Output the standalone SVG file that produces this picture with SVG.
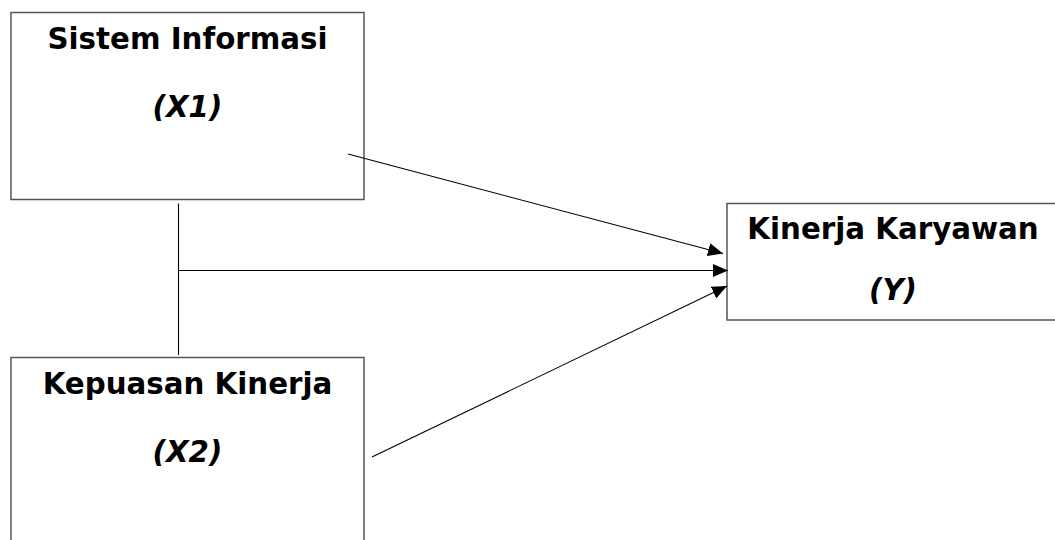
<svg xmlns="http://www.w3.org/2000/svg" width="1055" height="540" viewBox="0 0 1055 540">
  <style>
    .box { fill: #ffffff; stroke: #555555; stroke-width: 1.5; }
    .lbl { font-family: "DejaVu Sans", "Liberation Sans", sans-serif; font-weight: bold; font-size: 29.3px; fill: #000000; text-anchor: middle; }
    .it { font-style: italic; }
    .edge { stroke: #000000; stroke-width: 1.1; fill: none; }
  </style>
  <defs>
    <marker id="arrow" viewBox="0 0 15 13" refX="15" refY="6.5" markerWidth="15" markerHeight="13" markerUnits="userSpaceOnUse" orient="auto">
      <path d="M0,0 L15,6.5 L0,13 Z" fill="#000000"/>
    </marker>
  </defs>
  <rect width="1055" height="540" fill="#ffffff"/>

  <g id="node-x1">
    <rect class="box" x="11" y="12.5" width="353" height="187"/>
    <text class="lbl" x="187.5" y="49">Sistem Informasi</text>
    <text class="lbl it" x="187.5" y="116.5">(X1)</text>
  </g>

  <g id="node-x2">
    <rect class="box" x="11" y="357.5" width="353" height="200"/>
    <text class="lbl" x="187.5" y="393.5">Kepuasan Kinerja</text>
    <text class="lbl it" x="187.5" y="461.5">(X2)</text>
  </g>

  <g id="node-y">
    <rect class="box" x="727" y="203.5" width="340" height="116.5"/>
    <text class="lbl" x="893" y="239">Kinerja Karyawan</text>
    <text class="lbl it" x="893" y="300">(Y)</text>
  </g>

  <g id="connectors">
    <line class="edge" x1="178.5" y1="203.5" x2="178.5" y2="355"/>
    <line class="edge" x1="348" y1="154" x2="723" y2="253.5" marker-end="url(#arrow)"/>
    <line class="edge" x1="178.5" y1="270.5" x2="728" y2="270.5" marker-end="url(#arrow)"/>
    <line class="edge" x1="372" y1="457" x2="727" y2="286" marker-end="url(#arrow)"/>
  </g>
</svg>
